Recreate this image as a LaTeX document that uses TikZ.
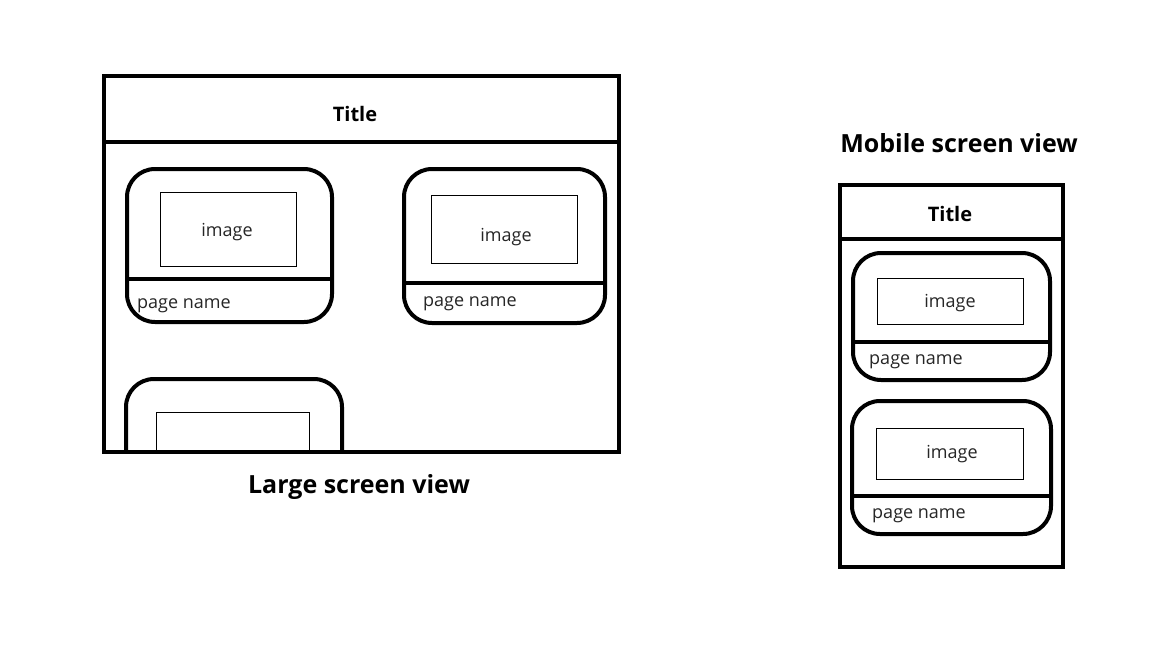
\documentclass[tikz,border=0pt]{standalone}
\usepackage{fontspec}
\setmainfont{Open Sans}
\begin{document}
\begin{tikzpicture}[x=1pt,y=-1pt,
  frame/.style={line width=4pt},
  card/.style={line width=4pt, rounded corners=28pt},
  sep/.style={line width=4pt},
  imgbox/.style={line width=1pt},
  label/.style={font=\fontsize{18}{21}\selectfont, text=black!85, inner sep=0pt},
  caption/.style={font=\fontsize{25}{29}\selectfont\bfseries, inner sep=0pt},
  titletext/.style={font=\fontsize{20}{23}\selectfont\bfseries, inner sep=0pt}]
\useasboundingbox (0,0) rectangle (1152,648);
\fill[white] (0,0) rectangle (1152,648);

% ---- large screen view ----
\draw[frame] (104,76) rectangle (619,452);
\draw[sep] (104,142) -- (619,142);
\node[titletext] (ltitle) at (355,114) {Title};

% card 1
\draw[card] (127,169) rectangle (332,322);
\draw[sep] (127,279) -- (332,279);
\draw[imgbox] (160,192) rectangle (296,266);
\node[label] (limg1) at (227,232) {image};
\node[label, anchor=west] (lname1) at (137,306) {page name};

% card 2
\draw[card] (404,169) rectangle (605,323);
\draw[sep] (404,283) -- (605,283);
\draw[imgbox] (431,195) rectangle (577,263);
\node[label] (limg2) at (506,237) {image};
\node[label, anchor=west] (lname2) at (423,304) {page name};

% card 3, cut off by the bottom of the frame
\begin{scope}
  \clip (106,144) rectangle (617,450);
  \draw[card] (126,379) rectangle (342,520);
  \draw[imgbox] (156,412) rectangle (309,480);
\end{scope}

\node[caption] (lcap) at (359,487) {Large screen view};

% ---- mobile screen view ----
\node[caption] (mcap) at (959,143) {Mobile screen view};
\draw[frame] (840,185) rectangle (1063,567);
\draw[sep] (840,239) -- (1063,239);
\node[titletext] (mtitle) at (950,214) {Title};

% mobile card 1
\draw[card] (853,253) rectangle (1050,380);
\draw[sep] (853,342) -- (1050,342);
\draw[imgbox] (877,278) rectangle (1023,324);
\node[label] (mimg1) at (950,303) {image};
\node[label, anchor=west] (mname1) at (869,362) {page name};

% mobile card 2
\draw[card] (852,401) rectangle (1051,534);
\draw[sep] (851,496) -- (1051,496);
\draw[imgbox] (876,428) rectangle (1023,479);
\node[label] (mimg2) at (952,454) {image};
\node[label, anchor=west] (mname2) at (872,516) {page name};
\end{tikzpicture}
\end{document}
